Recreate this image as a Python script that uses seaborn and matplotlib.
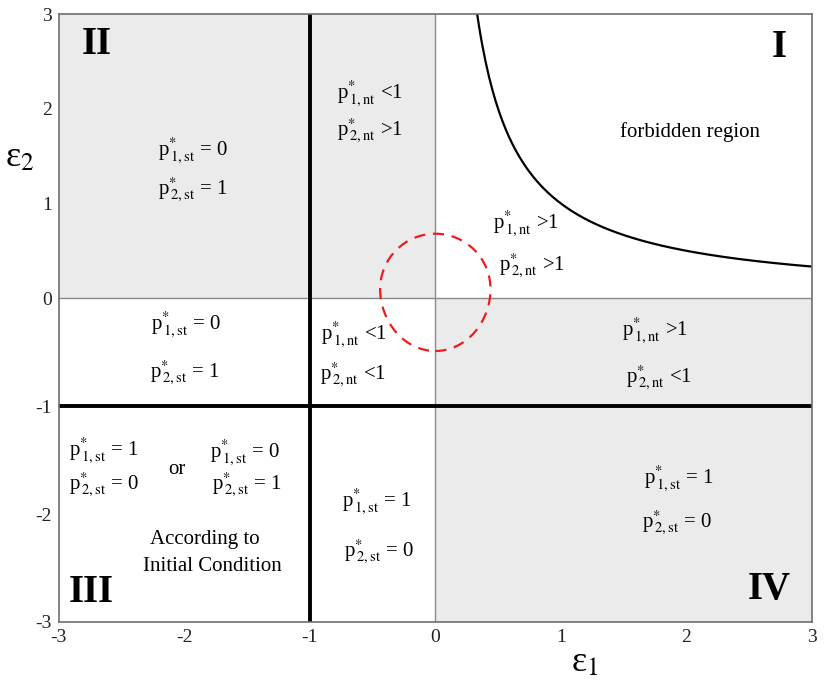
import numpy as np
import pandas as pd
import matplotlib
matplotlib.use("Agg")
import matplotlib.pyplot as plt
from matplotlib.patches import Ellipse
import seaborn as sns

# %%
# dados
ticks = [-3, -2, -1, 0, 1, 2, 3]
regioes_cinza = [(-3, 0, 0, 3), (0, 3, -3, 0)]   # x0, x1, y0, y1
linhas_grossas = {"x": -1, "y": -1}
linhas_finas = {"x": 0, "y": 0}
k_hiperbole = 1.0          # fronteira eps1 * eps2 = k
x_hiperbole = np.linspace(k_hiperbole / 3, 3, 200)
circulo = {"centro": (0.0, 0.095), "largura": 0.88, "altura": 1.17}

romanos = [("II", -2.70, 2.68), ("I", 2.74, 2.65), ("III", -2.74, -2.73), ("IV", 2.66, -2.70)]

def p(i, tipo, resto):
    return r"p$^{*}_{\,\mathrm{" + i + "," + tipo + "}}$ " + resto

textos = [
    (p("1", "st", "= 0"), -1.93, 1.56),
    (p("2", "st", "= 1"), -1.93, 1.14),
    (p("1", "nt", "<1"), -0.52, 2.16),
    (p("2", "nt", ">1"), -0.52, 1.77),
    (p("1", "nt", ">1"), 0.72, 0.79),
    (p("2", "nt", ">1"), 0.77, 0.34),
    (p("1", "st", "= 0"), -1.99, -0.25),
    (p("2", "st", "= 1"), -2.00, -0.69),
    (p("1", "nt", "<1"), -0.65, -0.34),
    (p("2", "nt", "<1"), -0.66, -0.71),
    (p("1", "nt", ">1"), 1.75, -0.30),
    (p("2", "nt", "<1"), 1.78, -0.74),
    (p("1", "st", "= 1"), -2.64, -1.41),
    (p("2", "st", "= 0"), -2.64, -1.73),
    (p("1", "st", "= 0"), -1.52, -1.43),
    (p("2", "st", "= 1"), -1.50, -1.73),
    (p("1", "st", "= 1"), -0.47, -1.89),
    (p("2", "st", "= 0"), -0.45, -2.35),
    (p("1", "st", "= 1"), 1.94, -1.67),
    (p("2", "st", "= 0"), 1.93, -2.08),
]
textos_livres = [
    ("or", -2.06, -1.59),
    ("forbidden region", 2.03, 1.75),
    ("According to", -1.84, -2.24),
    ("Initial Condition", -1.78, -2.49),
]

# %%
sns.set_style("white")
plt.rcParams["font.family"] = ["Liberation Serif", "DejaVu Serif"]
plt.rcParams["mathtext.fontset"] = "stix"
plt.rcParams["axes.unicode_minus"] = False
plt.rcParams["text.color"] = "black"

fig = plt.figure(figsize=(8.3, 6.9), dpi=100)
ax = fig.add_axes([0.071, 0.0986, 0.907, 0.881])

# escala do eixo y um pouco diferente acima e abaixo de zero (como na figura)
r = 0.877
ax.set_yscale("function", functions=(lambda y: np.where(y >= 0, y * r, y),
                                     lambda y: np.where(y >= 0, y / r, y)))

for x0, x1, y0, y1 in regioes_cinza:
    ax.fill_between([x0, x1], y0, y1, color="#ebebeb", lw=0, zorder=0)

ax.axvline(linhas_finas["x"], color="#8a8a8a", lw=1.0, zorder=1)
ax.axhline(linhas_finas["y"], color="#8a8a8a", lw=1.0, zorder=1)
ax.axvline(linhas_grossas["x"], color="black", lw=2.8, zorder=2)
ax.axhline(linhas_grossas["y"], color="black", lw=2.8, zorder=2)

df_hip = pd.DataFrame({"e1": x_hiperbole, "e2": k_hiperbole / x_hiperbole})
sns.lineplot(data=df_hip, x="e1", y="e2", color="black", lw=1.6, ax=ax, sort=False)

ax.add_patch(Ellipse(circulo["centro"], circulo["largura"], circulo["altura"],
                     fill=False, edgecolor="#ee1c1c", lw=1.6, ls=(0, (5, 3.5)), zorder=3))

for txt, x, y in romanos:
    ax.text(x, y, txt, fontsize=28, fontweight="bold", ha="center", va="center", color="black")
for txt, x, y in textos:
    ax.text(x, y, txt, fontsize=15, ha="center", va="center", color="black")
for txt, x, y in textos_livres:
    ax.text(x, y, txt, fontsize=15, ha="center", va="center", color="black")

ax.set_xlim(-3, 3)
ax.set_ylim(-3, 3)
ax.set_xticks(ticks)
ax.set_yticks(ticks)
ax.tick_params(length=0, labelsize=14, pad=5, colors="#222222")
for s in ax.spines.values():
    s.set_color("#6e6e6e")
    s.set_linewidth(1.2)

ax.set_xlabel(r"ε$_{\mathrm{1}}$", fontsize=26, color="black")
ax.set_ylabel(r"ε$_{\mathrm{2}}$", fontsize=26, rotation=0, color="black")
ax.xaxis.set_label_coords(0.699, -0.04, transform=ax.transAxes)
ax.yaxis.set_label_coords(-0.052, 0.763, transform=ax.transAxes)
ax.xaxis.label.set_va("top")
ax.yaxis.label.set_va("center")

fig.savefig("out.png", dpi=100)
